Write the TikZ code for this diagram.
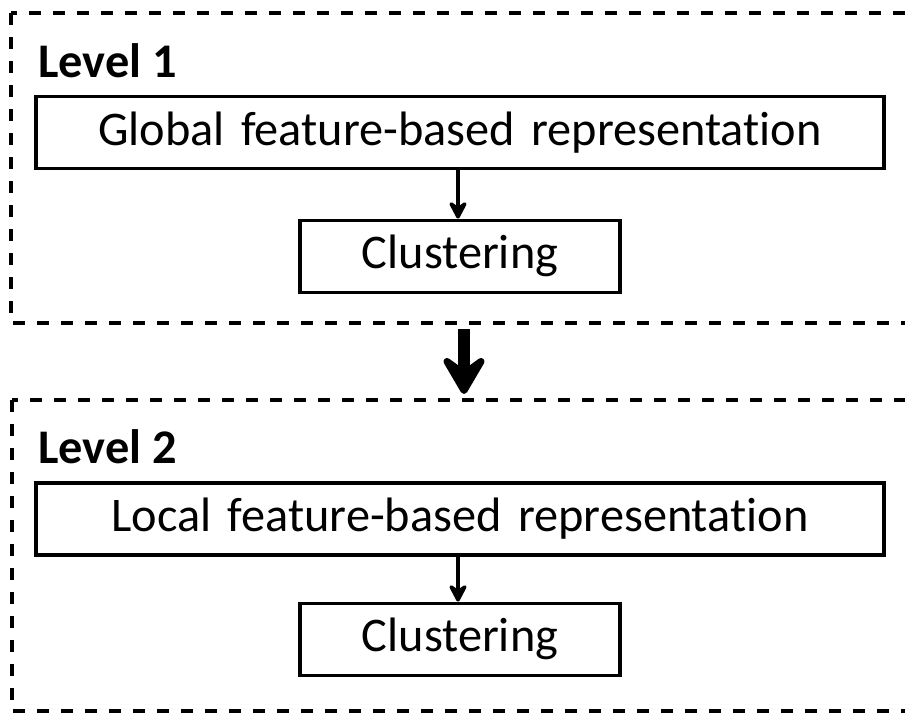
\documentclass[tikz,border=0pt]{standalone}
\usepackage{fontspec}
\setmainfont{Carlito}[Ligatures=NoCommon, WordSpace=1.5]
\newfontfamily\levelfont{Carlito}
\usetikzlibrary{arrows.meta, positioning}

\begin{document}
\begin{tikzpicture}[
			x=1bp, y=1bp,
			font=\fontsize{48.5}{58}\selectfont,
			% Node and frame styles
			process/.style={
				draw, rectangle,
				minimum height=72bp,
				inner sep=0pt,
				align=center,
				line width=3.2bp
			},
			levelframe/.style={
				draw, line width=3.5bp,
				dash pattern=on 12bp off 12bp
			},
			levellabel/.style={
				anchor=base west, inner sep=0pt,
				font=\levelfont\fontsize{48.5}{58}\selectfont\bfseries
			},
			arrow/.style={-{Stealth[length=22bp, width=23bp, inset=8bp, round]}, line width=4bp},
			bigarrow/.style={-{Stealth[length=48bp, width=56bp, inset=20bp, round]}, line width=12bp}
		]

		\useasboundingbox (0,0) rectangle (905,-714);

		% Level 1
		\draw[levelframe] (11,-13) rectangle (940,-323);
		\node[levellabel] (lvl1) at (38,-78) {Level 1};

		\node[process, minimum width=848bp] (global) at (460,-132.5)
			{Global feature-based representation};
		\node[process, minimum width=320bp, below=48.5bp of global] (clust1)
			{Clustering};

		% Level 2
		\draw[levelframe] (12,-400) rectangle (940,-711);
		\node[levellabel] (lvl2) at (38,-463) {Level 2};

		\node[process, minimum width=848bp] (local) at (460,-519)
			{Local feature-based representation};
		\node[process, minimum width=320bp, below=45bp of local] (clust2)
			{Clustering};

		% Arrows
		\draw[arrow] ([xshift=-2bp]global.south) -- ([xshift=-2bp]clust1.north);
		\draw[arrow] ([xshift=-2bp]local.south) -- ([xshift=-2bp]clust2.north);

		\coordinate (top-exit) at (464,-329);
		\coordinate (bottom-entry) at (464,-394);
		\draw[bigarrow] (top-exit) -- (bottom-entry);

		\end{tikzpicture}
\end{document}
